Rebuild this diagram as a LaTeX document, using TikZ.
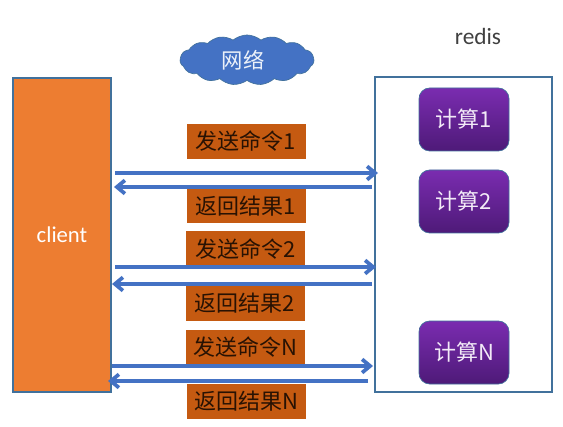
\documentclass[tikz,border=0pt]{standalone}
\usepackage{fontspec}
\setmainfont{Carlito}
\newfontfamily\cjk{Noto Sans CJK SC}
\usetikzlibrary{shapes.symbols,arrows.meta,calc}
\definecolor{orangeA}{HTML}{ED7D31}
\definecolor{labelA}{HTML}{C55A11}
\definecolor{blueA}{HTML}{4472C4}
\definecolor{edgeA}{HTML}{41719C}
\definecolor{purpleT}{HTML}{7A2CB0}
\definecolor{purpleB}{HTML}{4E1A78}
\tikzset{
  x=0.75pt,y=-0.75pt,
  sized/.style 2 args={minimum width=#1*0.75pt,minimum height=#2*0.75pt,inner sep=0pt,outer sep=0pt},
  labelbox/.style={fill=labelA,sized={119}{35},text=black!80!labelA,font=\cjk\fontsize{16.5}{16.5}\selectfont},
  calcbox/.style={rounded corners=8pt,top color=purpleT,bottom color=purpleB,draw=edgeA,line width=0.5pt,sized={90}{63},text=white!90!purpleT,font=\cjk\fontsize{16.5}{16.5}\selectfont},
  flow/.style={draw=blueA,line width=2.8pt,-{Straight Barb[length=6pt,width=10pt,line width=2.8pt]}},
}
\begin{document}
\begin{tikzpicture}
\useasboundingbox (0,0) rectangle (563,427);
\fill[white] (0,0) rectangle (563,427);
\node[fill=orangeA,draw=edgeA,line width=0.9pt,sized={98}{314},text=white,font=\fontsize{17}{17}\selectfont] (client) at (62,235) {client};
\node[draw=edgeA,line width=1pt,fill=white,sized={177}{315}] (server) at (463.5,234.5) {};
\node[font=\fontsize{17.5}{17.5}\selectfont,text=black!75] (redis) at (478,36) {redis};
\node[cloud,cloud puffs=15,cloud puff arc=80,aspect=2.7,fill=blueA,draw=edgeA,line width=0.5pt,sized={134}{50},text=white!90!blueA,font=\cjk\fontsize{16}{16}\selectfont] (net) at (247,60) {\kern-6pt 网络};
\node[calcbox] (c1) at (464,119.5) {计算1};
\node[calcbox] (c2) at (464,201.5) {计算2};
\node[calcbox] (cn) at (464,352.5) {计算N};
\node[labelbox] (s1) at (246,141.5) {发送命令1};
\node[labelbox] (r1) at (246,206) {返回结果1};
\node[labelbox] (s2) at (245.5,249) {发送命令2};
\node[labelbox] (r2) at (245,303) {返回结果2};
\node[labelbox] (sn) at (245,347) {发送命令N};
\node[labelbox] (rn) at (246,401) {返回结果N};
\coordinate (a1) at (115,173); \coordinate (b1) at (378,173);
\coordinate (a2) at (372,187); \coordinate (b2) at (114,187);
\coordinate (a3) at (115,267); \coordinate (b3) at (376,267);
\coordinate (a4) at (372,284); \coordinate (b4) at (112,284);
\coordinate (a5) at (112,366); \coordinate (b5) at (373,366);
\coordinate (a6) at (368,381); \coordinate (b6) at (108,381);
\draw[flow] (a1) -- (b1);
\draw[flow] (a2) -- (b2);
\draw[flow] (a3) -- (b3);
\draw[flow] (a4) -- (b4);
\draw[flow] (a5) -- (b5);
\draw[flow] (a6) -- (b6);
\end{tikzpicture}
\end{document}
